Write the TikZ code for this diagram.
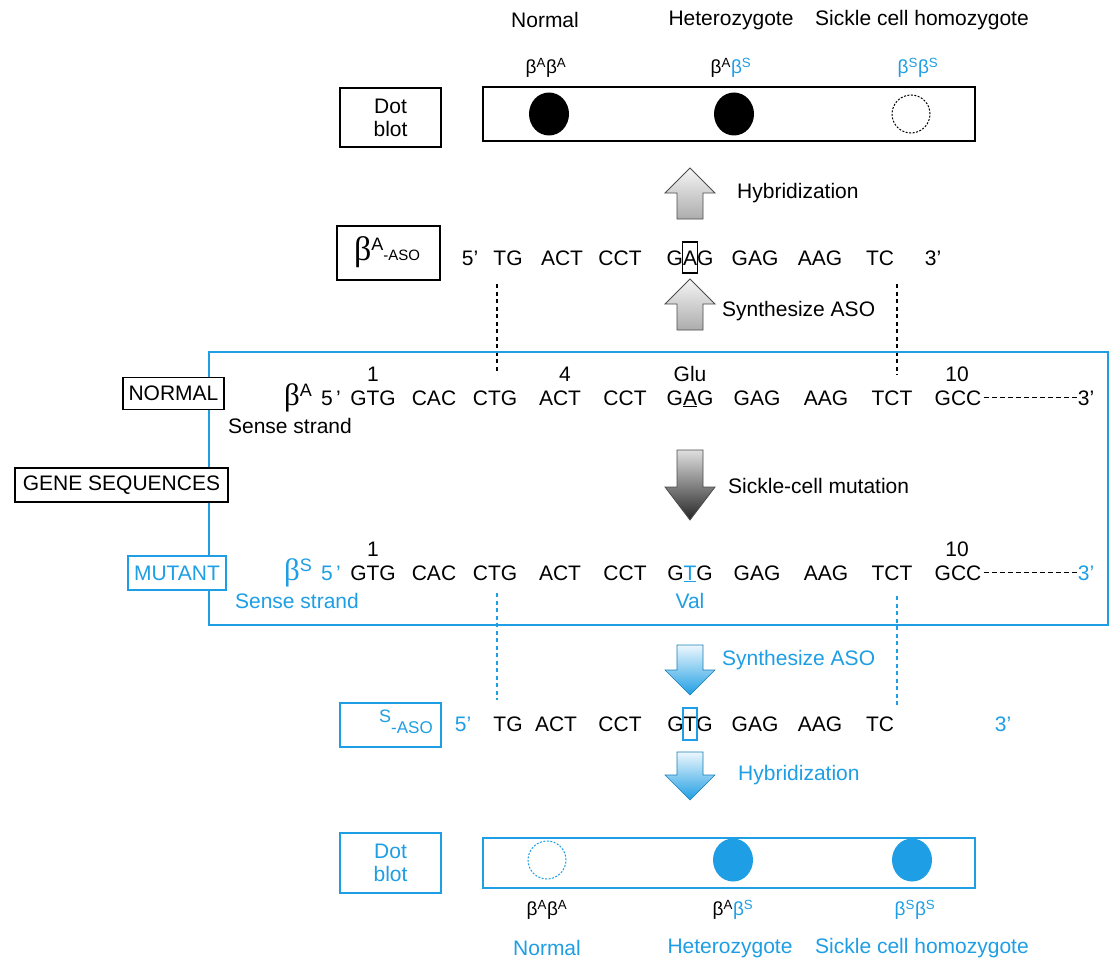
\documentclass[tikz,border=0pt]{standalone}
\usepackage{fontspec}
\usetikzlibrary{shapes.geometric}
\setmainfont{Liberation Sans}
\newfontfamily\serifb{Liberation Serif}
\definecolor{sk}{RGB}{30,158,228}
\newcommand\arrUp[4]{\shade[#4] (#1,#2) -- (#1+25,#2+25) -- (#1+13,#2+25) -- (#1+13,#3) -- (#1-13,#3) -- (#1-13,#2+25) -- (#1-25,#2+25) -- cycle;}
\newcommand\arrDown[5]{\shade[#5] (#1-13,#2) -- (#1+13,#2) -- (#1+13,#3-#4) -- (#1+25,#3-#4) -- (#1,#3) -- (#1-25,#3-#4) -- (#1-13,#3-#4) -- cycle;}
\newcommand\gb[1]{β\textsuperscript{#1}}
\newcommand\bigb[1]{{\serifb\fontsize{31}{31}\selectfont β}\raisebox{9pt}{\fontsize{18}{18}\selectfont #1}}
\begin{document}
\begin{tikzpicture}[x=1pt,y=-1pt,
 txt/.style={font=\fontsize{21}{23}\selectfont, inner sep=0pt},
 seq/.style={txt, anchor=base},
 gen/.style={font=\fontsize{19}{21}\selectfont, inner sep=0pt},
 lbox/.style={draw, line width=1.2pt, fill=white, inner sep=0pt, txt, align=center},
 bluebox/.style={lbox, draw=sk, text=sk},
 blot/.style={line width=2pt},
 spot/.style={ellipse, inner sep=0pt, minimum width=40pt, minimum height=43pt},
 dspot/.style={circle, inner sep=0pt, minimum size=38pt, draw, dash pattern=on 2pt off 1.5pt, line width=1pt},
 probe/.style={line width=2.5pt, dash pattern=on 4pt off 3.5pt},
 grayarr/.style={top color=gray!8, bottom color=gray!65, draw=gray!60!black, line width=0.8pt},
 darkarr/.style={top color=gray!25, bottom color=black!85, draw=black!70, line width=0.8pt},
 bluearr/.style={top color=sk!8, bottom color=sk, draw=sk!80!black, line width=0.6pt},
 dashline/.style={line width=1.2pt, dash pattern=on 5pt off 3pt},
 markbox/.style={line width=1.2pt},
]
\useasboundingbox (0,0) rectangle (1113,963);
\fill[white] (0,0) rectangle (1113,963);

% ---------- top: normal probe dot blot ----------
\node[txt] (tN) at (545,20) {Normal};
\node[txt] (tH) at (731,20) {Heterozygote};
\node[txt] (tS) at (922,20) {Sickle cell homozygote};
\node[gen] (g1) at (546,68) {\gb{A}\gb{A}};
\node[gen] (g2) at (731,68) {\gb{A}\textcolor{sk}{\gb{S}}};
\node[gen,text=sk] (g3) at (918,68) {\gb{S}\gb{S}};
\node[lbox, minimum width=101pt, minimum height=59pt] (db1) at (390.5,117.5) {Dot\\blot};
\draw[blot] (483,87) rectangle (975,141);
\node[spot, fill=black] (d1) at (549,114) {};
\node[spot, fill=black] (d2) at (734,114) {};
\node[dspot] (d3) at (911,114) {};

% Hybridization (up, gray)
\arrUp{690}{168}{219}{grayarr}
\node[txt, anchor=west] (hyb1) at (737,193) {Hybridization};

% beta-A ASO
\node[lbox, minimum width=103pt, minimum height=54pt] (asoA) at (388.5,253) {};
\node[inner sep=0pt] (asoAt) at (387,252) {{\serifb\fontsize{34}{34}\selectfont β}\raisebox{10pt}{\fontsize{18}{18}\selectfont A}\raisebox{0pt}{\fontsize{15}{15}\selectfont -ASO}};
\node[seq] (a5) at (470,265) {5'};
\node[seq] (a1) at (508,265) {TG};
\node[seq] (a2) at (562,265) {ACT};
\node[seq] (a3) at (620,265) {CCT};
\node[seq] (a4) at (690,265) {GAG};
\node[seq] (a5b) at (755,265) {GAG};
\node[seq] (a6) at (820,265) {AAG};
\node[seq] (a7) at (880,265) {TC};
\node[seq] (a3p) at (933,265) {3'};
\draw[markbox] (682.5,242) rectangle (697.5,273);

% dotted probe lines (black)
\coordinate (pl1) at (497,284); \coordinate (pl2) at (497,372);
\coordinate (pr1) at (897,284); \coordinate (pr2) at (897,375);
\draw[probe] (pl1) -- (pl2);
\draw[probe] (pr1) -- (pr2);

% Synthesize ASO (up, gray)
\arrUp{690}{279}{330}{grayarr}
\node[txt, anchor=west] (syn1) at (722,311) {Synthesize ASO};

% ---------- gene sequences ----------
\draw[sk, line width=2pt] (209,352) rectangle (1108,625);
\node[lbox, minimum width=101pt, minimum height=32pt] (nor) at (173.5,393.5) {NORMAL};
\node[lbox, minimum width=213pt, minimum height=34pt] (gs) at (121.5,485) {GENE SEQUENCES};
\node[bluebox, minimum width=98pt, minimum height=34pt] (mut) at (177,573) {MUTANT};

% normal row
\node[seq] (nb) at (298,405) {\bigb{A}};
\node[seq] (n5) at (331,405) {5\,'};
\node[seq] (n1) at (373,405) {GTG};
\node[seq] (n2) at (434,405) {CAC};
\node[seq] (n3) at (495,405) {CTG};
\node[seq] (n4) at (560,405) {ACT};
\node[seq] (n5c) at (625,405) {CCT};
\node[seq] (n6) at (690,405) {G\underline{A}G};
\node[seq] (n7) at (757,405) {GAG};
\node[seq] (n8) at (826,405) {AAG};
\node[seq] (n9) at (892,405) {TCT};
\node[seq] (n10) at (958,405) {GCC};
\node[seq] (n3p) at (1086,405) {3'};
\draw[dashline] ([xshift=2pt]n10.east) -- (n10.east -| n3p.west);
\node[seq] (k1) at (373,381) {1};
\node[seq] (k4) at (565,381) {4};
\node[seq] (kg) at (690,381) {Glu};
\node[seq] (k10) at (957,381) {10};
\node[txt] (ss1) at (290,426) {Sense strand};

% Sickle-cell mutation (down, dark)
\arrDown{690}{450}{520}{33}{darkarr}
\node[txt, anchor=west] (scm) at (728,486) {Sickle-cell mutation};

% mutant row
\node[seq, text=sk] (mb) at (298,580) {\bigb{S}};
\node[seq, text=sk] (m5) at (331,580) {5\,'};
\node[seq] (m1) at (373,580) {GTG};
\node[seq] (m2) at (434,580) {CAC};
\node[seq] (m3) at (495,580) {CTG};
\node[seq] (m4) at (560,580) {ACT};
\node[seq] (m5c) at (625,580) {CCT};
\node[seq] (m6) at (690,580) {G\textcolor{sk}{\underline{T}}G};
\node[seq] (m7) at (757,580) {GAG};
\node[seq] (m8) at (826,580) {AAG};
\node[seq] (m9) at (892,580) {TCT};
\node[seq] (m10) at (958,580) {GCC};
\node[seq, text=sk] (m3p) at (1086,580) {3'};
\draw[dashline] ([xshift=2pt]m10.east) -- (m10.east -| m3p.west);
\node[seq] (q1) at (373,556) {1};
\node[seq] (q10) at (957,556) {10};
\node[txt, text=sk] (val) at (690,601) {Val};
\node[txt, text=sk] (ss2) at (297,601) {Sense strand};

% dotted probe lines (blue)
\coordinate (bl1) at (497,593); \coordinate (bl2) at (497,700);
\coordinate (br1) at (897,596); \coordinate (br2) at (897,706);
\draw[probe, sk] (bl1) -- (bl2);
\draw[probe, sk] (br1) -- (br2);

% Synthesize ASO (down, blue)
\arrDown{690}{645}{695}{25}{bluearr}
\node[txt, anchor=west, text=sk] (syn2) at (722,660) {Synthesize ASO};

% S-ASO
\node[bluebox, minimum width=101pt, minimum height=44pt] (asoS) at (390.5,725) {};
\node[inner sep=0pt, text=sk] (asoSt) at (406,722) {\raisebox{8pt}{\fontsize{18}{18}\selectfont S}\raisebox{-3pt}{\fontsize{17}{17}\selectfont -ASO}};
\node[seq, text=sk] (s5) at (463,731) {5'};
\node[seq] (s1) at (508,731) {TG};
\node[seq] (s2) at (556,731) {ACT};
\node[seq] (s3) at (620,731) {CCT};
\node[seq] (s4) at (690,731) {GTG};
\node[seq] (s5b) at (755,731) {GAG};
\node[seq] (s6) at (820,731) {AAG};
\node[seq] (s7) at (880,731) {TC};
\node[seq, text=sk] (s3p) at (1003,731) {3'};
\draw[markbox, sk] (683,708) rectangle (697,740);

% Hybridization (down, blue)
\arrDown{690}{752}{800}{25}{bluearr}
\node[txt, anchor=west, text=sk] (hyb2) at (738,775) {Hybridization};

% ---------- bottom: sickle probe dot blot ----------
\node[bluebox, minimum width=101pt, minimum height=60pt] (db2) at (390.5,863) {Dot\\blot};
\draw[blot, sk] (483,838) rectangle (975,888);
\node[dspot, draw=sk] (e1) at (547,860) {};
\node[spot, fill=sk] (e2) at (733,860) {};
\node[spot, fill=sk] (e3) at (912,860) {};
\node[gen] (h1) at (547,910) {\gb{A}\gb{A}};
\node[gen] (h2) at (733,910) {\gb{A}\textcolor{sk}{\gb{S}}};
\node[gen, text=sk] (h3) at (915,910) {\gb{S}\gb{S}};
\node[txt, text=sk] (bN) at (547,948) {Normal};
\node[txt, text=sk] (bH) at (730,948) {Heterozygote};
\node[txt, text=sk] (bS) at (922,948) {Sickle cell homozygote};
\end{tikzpicture}
\end{document}
